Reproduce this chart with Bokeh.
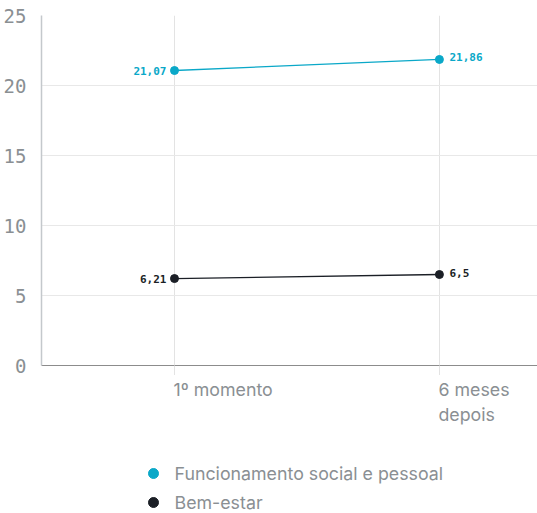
from bokeh.plotting import figure
from bokeh.models import Range1d, ColumnDataSource, FixedTicker
from bokeh.layouts import column
from bokeh.embed import file_html
from bokeh.resources import INLINE
from bokeh.core.properties import value

categories = ["1º momento", "6 meses\ndepois"]
social = [21.07, 21.86]
social_labels = ["21,07", "21,86"]
bem = [6.21, 6.5]
bem_labels = ["6,21", "6,5"]
series_names = ["Funcionamento social e pessoal", "Bem-estar"]
y_ticks = [0, 5, 10, 15, 20, 25]

CYAN = "#0aa8c8"
DARK = "#1b1f26"
GRAY = "#8a8f93"
series_colors = [CYAN, DARK]

xs = list(range(len(categories)))
xr = Range1d(-0.502, 1.374)

p = figure(frame_width=497, frame_height=350, output_backend="svg", toolbar_location=None,
           x_range=xr, y_range=Range1d(0, 25),
           min_border_left=40, min_border_right=0, min_border_top=15,
           min_border_bottom=10)
p.outline_line_color = None

p.line(xs, social, line_color=CYAN, line_width=1.3)
p.scatter(xs, social, size=8, fill_color=CYAN, line_color=CYAN)
p.line(xs, bem, line_color=DARK, line_width=1.3)
p.scatter(xs, bem, size=8, fill_color=DARK, line_color=DARK)

# data labels
for vals, labs, col in [(social, social_labels, CYAN), (bem, bem_labels, DARK)]:
    src_l = ColumnDataSource(dict(x=[xs[0]], y=[vals[0]], t=[labs[0]]))
    src_r = ColumnDataSource(dict(x=[xs[1]], y=[vals[1]], t=[labs[1]]))
    p.text("x", "y", text="t", source=src_l, x_offset=-8, text_align="right",
           text_baseline="middle", text_font=value("DejaVu Sans Mono"),
           text_font_style="bold", text_font_size="11px", text_color=col)
    p.text("x", "y", text="t", source=src_r, x_offset=10, y_offset=-2, text_align="left",
           text_baseline="middle", text_font=value("DejaVu Sans Mono"),
           text_font_style="bold", text_font_size="11px", text_color=col)

# axes
p.xaxis.ticker = FixedTicker(ticks=xs)
p.xaxis.major_label_text_font_size = "0px"
p.xaxis.major_label_text_color = None
p.xaxis.major_label_standoff = 0
p.xaxis.axis_line_color = "#8c8c8c"
p.xaxis.major_tick_line_color = "#e3e3e3"
p.xaxis.major_tick_out = 10
p.xaxis.major_tick_in = 0
p.xaxis.minor_tick_line_color = None

p.yaxis.ticker = FixedTicker(ticks=y_ticks)
p.yaxis.major_label_text_font = "DejaVu Sans Mono"
p.yaxis.major_label_text_font_size = "19px"
p.yaxis.major_label_text_color = GRAY
p.yaxis.axis_line_color = "#c4c8cc"
p.yaxis.axis_line_width = 1.5
p.yaxis.major_tick_line_color = None
p.yaxis.minor_tick_line_color = None
p.yaxis.major_label_standoff = 9

p.xgrid.grid_line_color = "#e3e3e3"
p.ygrid.grid_line_color = "#e8e8e8"

# lower panel: category labels (left-aligned at ticks) and legend
p2 = figure(frame_width=497, height=138, output_backend="svg", toolbar_location=None,
            x_range=xr, y_range=Range1d(138, 0),
            min_border_left=40, min_border_right=0, min_border_top=0,
            min_border_bottom=0)
p2.extra_x_ranges = {"px": Range1d(0, 497)}
p2.outline_line_color = None
p2.axis.visible = False
p2.grid.visible = False

cat_src = ColumnDataSource(dict(x=xs, y=[3] * len(xs), t=categories))
p2.text("x", "y", text="t", source=cat_src, x_offset=-1, text_align="left",
        text_baseline="top", text_font=value("Inter"), text_font_size="17.8px",
        text_color=GRAY, text_line_height=1.2)

# legend (drawn manually, vertical list)
leg_rows = [98 + 29 * i for i in range(len(series_names))]
leg_src = ColumnDataSource(dict(x=[112] * len(series_names), y=leg_rows,
                                t=series_names, c=series_colors))
p2.scatter("x", "y", source=leg_src, size=10, fill_color="c", line_color="c",
           x_range_name="px")
p2.text("x", "y", text="t", source=leg_src, x_offset=21, text_align="left",
        text_baseline="middle", text_font=value("Inter"), text_font_size="17.8px",
        text_color=GRAY, x_range_name="px")

layout = column(p, p2, spacing=0)
open("out.html", "w").write(file_html(layout, INLINE))
